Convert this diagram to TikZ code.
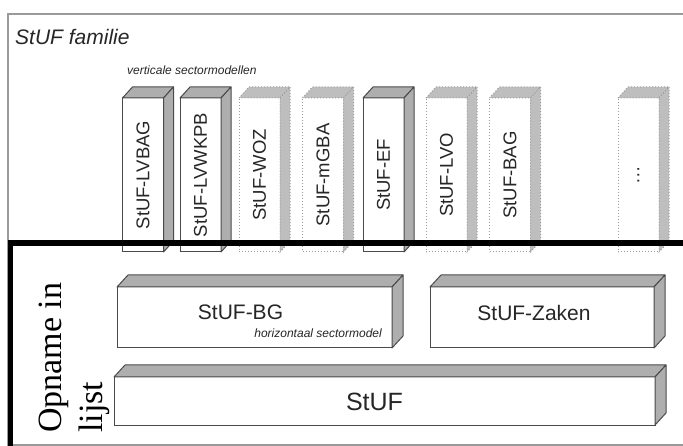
\documentclass[tikz,border=0pt]{standalone}
\usepackage{fontspec}
\setmainfont{Liberation Serif}
\setsansfont{Liberation Sans}
\usepackage{graphicx}
\usetikzlibrary{positioning}
\definecolor{framegray}{HTML}{9A9A9A}
\definecolor{edgegray}{HTML}{4A4A4A}
\definecolor{facegray}{HTML}{AEAEAE}
\definecolor{dotgray}{HTML}{BEBEBE}
\definecolor{dotedge}{HTML}{9C9C9C}
\definecolor{txtgray}{HTML}{262626}

\begin{document}
\begin{tikzpicture}[x=1pt, y=-1pt,
    solidfront/.style={draw=edgegray, fill=white, line width=1pt},
    solidside/.style={draw=edgegray, fill=facegray, line width=1pt, line join=round},
    dotfront/.style={draw=dotedge, fill=white, line width=1pt, dotted},
    dotside/.style={draw=dotedge, fill=dotgray, line width=1pt, dotted},
    vbox/.style={minimum width=41pt, minimum height=154pt, inner sep=0pt, outer sep=0pt,
      font=\fontsize{18.5}{20}\selectfont\sffamily, text=txtgray},
    hbox/.style={solidfront, minimum height=61pt, inner sep=0pt, outer sep=0pt},
    hlabel/.style={font=\fontsize{21}{24}\selectfont\sffamily, text=txtgray},
    smalllbl/.style={font=\fontsize{12}{14}\selectfont\sffamily\itshape, text=txtgray}]
  \clip (0,0) rectangle (683,446);
  \draw[framegray, line width=1.5pt] (8,14) rectangle (700,445);
  \node[font=\fontsize{21}{24}\selectfont\sffamily\itshape, text=txtgray,
        anchor=base west, inner sep=0pt] (title) at (15,45) {StUF familie};
  \node[smalllbl, anchor=base west, inner sep=0pt] (vsub) at (127,75) {verticale sectormodellen};

  % vertical sector models
  \foreach \nm/\x/\lbl/\fr/\sd in {
      lvbag/143/StUF-LVBAG/solidfront/solidside,
      lvwkpb/200.5/StUF-LVWKPB/solidfront/solidside,
      woz/259.5/StUF-WOZ/dotfront/dotside,
      mgba/323/StUF-mGBA/dotfront/dotside,
      ef/383.5/StUF-EF/solidfront/solidside,
      lvo/446.5/StUF-LVO/dotfront/dotside,
      bag/510/StUF-BAG/dotfront/dotside,
      more/638.5/{\dots}/dotfront/dotside}{
    \node[vbox, \fr] (\nm) at (\x,175) {\rotatebox{90}{\lbl}};
    \path[\sd] (\nm.north west) -- ([shift={(10,-11)}]\nm.north west)
      -- ([shift={(10,-11)}]\nm.north east) -- (\nm.north east) -- cycle;
    \path[\sd] (\nm.north east) -- ([shift={(10,-11)}]\nm.north east)
      -- ([shift={(10,-11)}]\nm.south east) -- (\nm.south east) -- cycle;
  }

  % horizontal layers
  \node[hbox, minimum width=275pt] (bg) at (254.5,317.5) {};
  \node[hbox, minimum width=224pt] (zaken) at (542,317.5) {};
  \node[hbox, minimum width=541pt, minimum height=48pt] (stuf) at (384.5,401) {};
  \foreach \nm in {bg, zaken, stuf}{
    \path[solidside] (\nm.north west) -- ([shift={(11,-12)}]\nm.north west)
      -- ([shift={(11,-12)}]\nm.north east) -- (\nm.north east) -- cycle;
    \path[solidside] (\nm.north east) -- ([shift={(11,-12)}]\nm.north east)
      -- ([shift={(11,-12)}]\nm.south east) -- (\nm.south east) -- cycle;
  }
  \node[hlabel] (bglbl) at ([shift={(-14,-5)}]bg.center) {StUF-BG};
  \node[smalllbl, anchor=base east, inner sep=0pt] (bgsub) at ([shift={(-10,-10)}]bg.south east) {horizontaal sectormodel};
  \node[hlabel] (zakenlbl) at ([shift={(-8,-5)}]zaken.center) {StUF-Zaken};
  \node[hlabel, font=\fontsize{25}{28}\selectfont\sffamily] (stuflbl) at ([shift={(-10,1)}]stuf.center) {StUF};

  % list frame
  \draw[black, line width=5.5pt] (10.5,243) rectangle (720,480);
  \node[anchor=north west, rotate=90, align=left, inner sep=0pt,
        font=\fontsize{34}{41}\selectfont] (opname) at (39,433) {Opname in\\lijst};
\end{tikzpicture}
\end{document}
